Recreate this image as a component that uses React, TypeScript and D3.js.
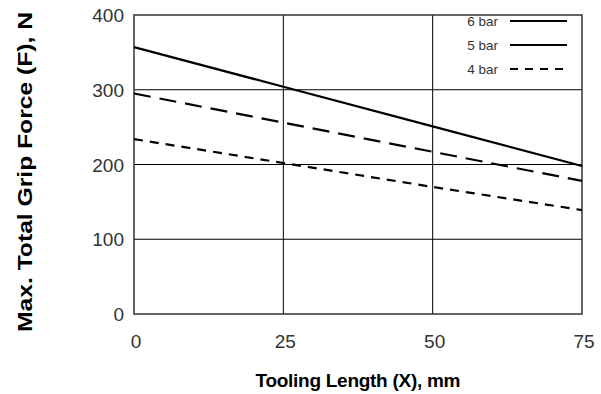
import React from "react";
import * as d3 from "d3";

const xTicks = [0, 25, 50, 75];
const yTicks = [0, 100, 200, 300, 400];
const lengths = [0, 25, 50, 75];
const bar6 = [357, 304, 251, 198];
const bar5 = [295, 256, 217, 178];
const bar4 = [234, 202, 170, 139];
const legendLabels = ["6 bar", "5 bar", "4 bar"];

export default function App() {
  const W = 601, H = 394;
  const left = 134, right = 582, top = 15, bottom = 314;
  const x = d3.scaleLinear().domain([0, 75]).range([left, right]);
  const y = d3.scaleLinear().domain([0, 400]).range([bottom, top]);
  const line = d3.line<number>().x((_, i) => x(lengths[i])).y((d) => y(d));
  const series = [
    { v: bar6, dash: "none" },
    { v: bar5, dash: "17 9" },
    { v: bar4, dash: "9 7" },
  ];
  const legendDash = ["none", "none", "8 7"];
  const font = "Liberation Sans, Arial, Helvetica, sans-serif";
  return (
    <svg width={W} height={H} style={{ position: "absolute", left: 0, top: 0 }} fontFamily={font}>
      <rect width={W} height={H} fill="#fff" />
      {yTicks.slice(1, -1).map((t) => (
        <line key={"gy" + t} x1={left} x2={right} y1={y(t)} y2={y(t)} stroke="#000" strokeWidth={1} />
      ))}
      {xTicks.slice(1, -1).map((t) => (
        <line key={"gx" + t} x1={x(t)} x2={x(t)} y1={top} y2={bottom} stroke="#000" strokeWidth={1} />
      ))}
      <rect x={left} y={top} width={right - left} height={bottom - top} fill="none" stroke="#333" strokeWidth={1.5} />
      {series.map((s, i) => (
        <path key={i} d={line(s.v) || ""} fill="none" stroke="#000" strokeWidth={2.2} strokeDasharray={s.dash} />
      ))}
      {yTicks.map((t) => (
        <text key={"ty" + t} x={124} y={y(t) + 7} textAnchor="end" fontSize={19} fill="#333">{t}</text>
      ))}
      {xTicks.map((t) => (
        <text key={"tx" + t} x={x(t) + 2} y={348} textAnchor="middle" fontSize={19} fill="#333">{t}</text>
      ))}
      {legendLabels.map((l, i) => (
        <g key={l}>
          <text x={498} y={26 + i * 24} textAnchor="end" fontSize={13.5} fill="#333">{l}</text>
          <line x1={510} x2={567} y1={21 + i * 24} y2={21 + i * 24} stroke="#000" strokeWidth={2} strokeDasharray={legendDash[i]} />
        </g>
      ))}
      <text x={358} y={387} textAnchor="middle" fontSize={19} fontWeight="bold" fill="#000" textLength={205} lengthAdjust="spacing">Tooling Length (X), mm</text>
      <text transform={`translate(32,${172}) rotate(-90)`} textAnchor="middle" fontSize={20.5} fontWeight="bold" fill="#000" textLength={320} lengthAdjust="spacingAndGlyphs">Max. Total Grip Force (F), N</text>
    </svg>
  );
}
